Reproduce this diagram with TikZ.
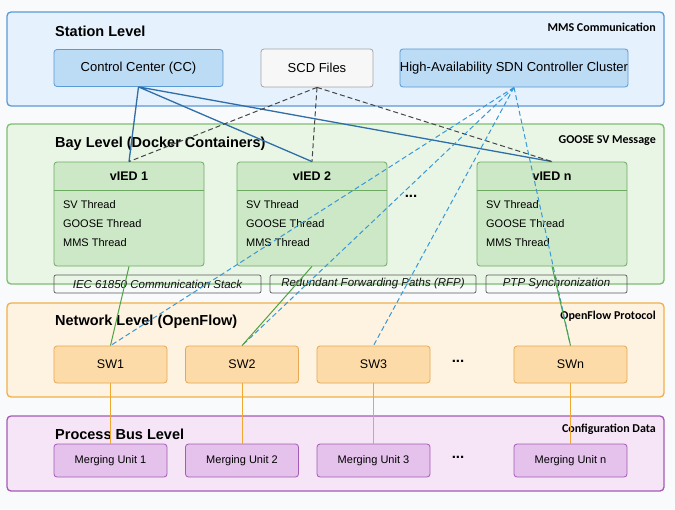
\documentclass[tikz,border=0pt]{standalone}
\usepackage{fontspec}
\setmainfont{Liberation Sans}
\newfontfamily\tagfont{Carlito}
\usetikzlibrary{positioning}

\definecolor{pagebg}{HTML}{F9FAFB}
\definecolor{stationfill}{HTML}{E5F1FC}
\definecolor{stationline}{HTML}{5A9AD6}
\definecolor{ccfill}{HTML}{BCDBF5}
\definecolor{bayfill}{HTML}{E9F6E6}
\definecolor{bayline}{HTML}{7DBE71}
\definecolor{iedfill}{HTML}{CDE8C6}
\definecolor{iedline}{HTML}{6CAA62}
\definecolor{netfill}{HTML}{FEF2E1}
\definecolor{netline}{HTML}{F0B046}
\definecolor{swfill}{HTML}{FDDBA8}
\definecolor{swline}{HTML}{E6A852}
\definecolor{procfill}{HTML}{F5E5F7}
\definecolor{procline}{HTML}{A45BB6}
\definecolor{mufill}{HTML}{E4C2EB}
\definecolor{ccwire}{HTML}{2F6EA8}
\definecolor{sdnwire}{HTML}{3A98D6}
\definecolor{iedwire}{HTML}{4CA445}
\definecolor{swwire}{HTML}{F0A830}

\begin{document}
\begin{tikzpicture}[x=1pt,y=-1pt]
		\tikzset{level style/.style={draw, rounded corners=4pt, line width=1.3pt,
				minimum width=657pt},
			level title/.style={anchor=west, inner sep=0pt,
				font=\fontsize{14.5}{16}\selectfont\bfseries},
			level tag/.style={anchor=east, inner sep=0pt,
				font=\tagfont\fontsize{12}{14}\selectfont\bfseries},
			box style/.style={draw, rounded corners=3pt, line width=0.8pt,
				font=\fontsize{13}{15}\selectfont},
			ied style/.style={box style, fill=iedfill, draw=iedline,
				minimum width=150pt, minimum height=104pt},
			thread style/.style={anchor=west, align=left,
				font=\fontsize{11}{19}\selectfont},
			stack style/.style={draw=gray!70!black, rounded corners=2pt, line width=0.7pt,
				minimum height=18pt, inner sep=0pt, text=gray!15!black,
				font=\fontsize{11.5}{13}\selectfont\itshape},
			sw style/.style={box style, fill=swfill, draw=swline,
				minimum width=113pt, minimum height=37pt, font=\fontsize{12.5}{14}\selectfont},
			mu style/.style={box style, fill=mufill, draw=procline,
				minimum width=113pt, minimum height=33pt, font=\fontsize{11}{13}\selectfont},
			dots/.style={font=\fontsize{15}{16}\selectfont\bfseries}}
		
		\useasboundingbox[fill=pagebg] (0,0) rectangle (675,509);
		
		% Draw the four levels
		\node[level style, fill=stationfill, draw=stationline, minimum height=94pt] at (335.5,59) (station) {};
		\node[level style, fill=bayfill, draw=bayline, minimum height=160pt] at (335.5,204) (bay) {};
		\node[level style, fill=netfill, draw=netline, minimum height=94pt] at (335.5,350) (network) {};
		\node[level style, fill=procfill, draw=procline, minimum height=75pt] at (335.5,453.5) (process) {};
		
		\node[level title] at (55,31) (stationtitle) {Station Level};
		\node[level title] at (55,144) (baytitle) {Bay Level (Docker Containers)};
		\node[level title] at (55,322) (nettitle) {Network Level (OpenFlow)};
		\node[level title] at (55,434) (proctitle) {Process Bus Level};
		
		\node[level tag] at (656,27) (mmstag) {MMS Communication};
		\node[level tag] at (656,141) (goosetag) {GOOSE SV Message};
		\node[level tag] at (656,316) (oftag) {OpenFlow Protocol};
		\node[level tag] at (656,429) (cfgtag) {Configuration Data};
		
		% Station level
		\node[box style, fill=ccfill, draw=stationline, minimum width=169pt, minimum height=37pt] at (138.5,68) (cc) {Control Center (CC)};
		\node[box style, fill=gray!6, draw=gray!70, minimum width=112pt, minimum height=38pt] at (317,68) (scd) {SCD Files};
		\node[box style, fill=ccfill, draw=stationline, minimum width=226pt, minimum height=38pt, inner xsep=0pt] at (514,68) (sdn) {High-Availability SDN Controller Cluster};
		
		% Bay level, one container per vIED
		\node[ied style] at (129,214) (ied1) {};
		\node[ied style] at (312,214) (ied2) {};
		\node[ied style] at (552,214) (iedn) {};
		\foreach \n/\name in {ied1/vIED 1, ied2/vIED 2, iedn/vIED n}{
			\draw[iedline, line width=0.8pt] ([yshift=-29pt]\n.north west) -- ([yshift=-29pt]\n.north east);
			\node[font=\fontsize{12.5}{14}\selectfont\bfseries] at ([yshift=-15pt]\n.north) {\name};
			\node[thread style] at ([xshift=6pt,yshift=-10pt]\n.west) {SV Thread\\GOOSE Thread\\MMS Thread};
		}
		\node[dots] at (411,196) (ieddots) {...};
		
		\node[stack style, minimum width=207pt] at (157.5,284) (iec) {IEC 61850 Communication Stack};
		\node[stack style, minimum width=206pt] at (373,284) (rfp) {Redundant Forwarding Paths (RFP)};
		\node[stack style, minimum width=141pt] at (556.5,284) (ptp) {PTP Synchronization};
		
		% Network level
		\node[sw style] at (110.5,364.5) (sw1) {SW1};
		\node[sw style] at (242,364.5) (sw2) {SW2};
		\node[sw style] at (373.5,364.5) (sw3) {SW3};
		\node[sw style] at (570.5,364.5) (swn) {SWn};
		\node[dots] at (458,361) (swdots) {...};
		
		% Process bus level
		\node[mu style] at (110.5,460.5) (mu1) {Merging Unit 1};
		\node[mu style] at (242,460.5) (mu2) {Merging Unit 2};
		\node[mu style] at (373.5,460.5) (mu3) {Merging Unit 3};
		\node[mu style] at (570.5,460.5) (mun) {Merging Unit n};
		\node[dots] at (458,457) (mudots) {...};
		
		% Connect the levels
		\draw[ccwire, line width=1.3pt]
		(cc.south) -- (ied1.north)
		(cc.south) -- (ied2.north)
		(cc.south) -- (iedn.north);
		\draw[gray!55!black, line width=1pt, dash pattern=on 5pt off 3pt]
		(scd.south) -- (ied1.north)
		(scd.south) -- (ied2.north)
		(scd.south) -- (iedn.north);
		\draw[sdnwire, line width=1pt, dash pattern=on 5pt off 3pt]
		(sdn.south) -- (sw1.north)
		(sdn.south) -- (sw2.north)
		(sdn.south) -- (sw3.north)
		(sdn.south) -- (swn.north);
		\draw[iedwire, line width=1pt]
		(ied1.south) -- (sw1.north)
		(ied2.south) -- (sw2.north)
		(iedn.south) -- (swn.north);
		\draw[swwire, line width=1pt]
		(sw1) -- (mu1)
		(sw2) -- (mu2)
		(sw3) -- (mu3)
		(swn) -- (mun);
		
\end{tikzpicture}
\end{document}
